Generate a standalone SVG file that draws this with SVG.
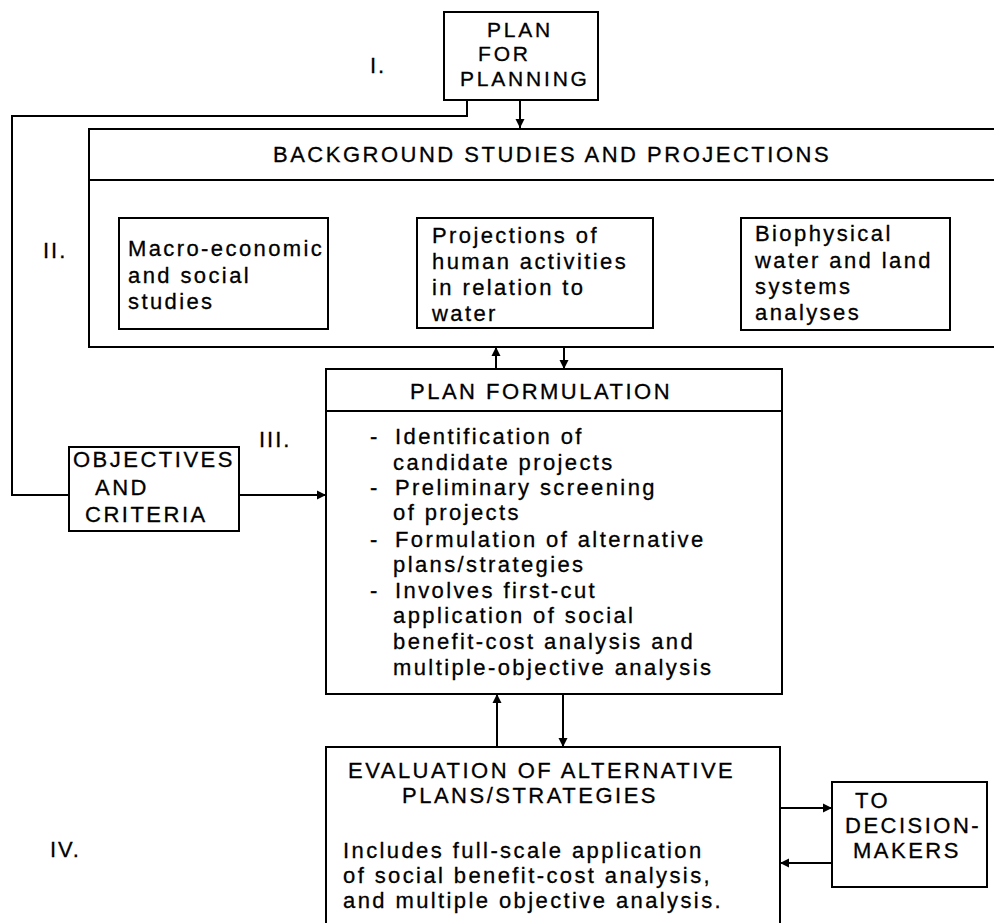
<svg xmlns="http://www.w3.org/2000/svg" width="994" height="923" viewBox="0 0 994 923">
<defs>
<marker id="ah" viewBox="0 0 10 10" refX="10" refY="5" markerWidth="9" markerHeight="10" markerUnits="userSpaceOnUse" orient="auto">
<path d="M0,0 L10,5 L0,10 z" fill="#000"/>
</marker>
<style>
.box{fill:none;stroke:#000;stroke-width:2}
.ln{fill:none;stroke:#000;stroke-width:2}
.arr{fill:none;stroke:#000;stroke-width:2;marker-end:url(#ah)}
text{font-family:"Liberation Sans","DejaVu Sans",sans-serif;fill:#000;stroke:#000;stroke-width:0.3px}
.h{font-size:22px;letter-spacing:2.5px}
.hs{font-size:21px;letter-spacing:2.8px}
.b{font-size:22px;letter-spacing:2.4px}
.r{font-size:22px;letter-spacing:2px}
</style>
</defs>
<rect width="994" height="923" fill="#fff"/>

<g id="connectors">
<path class="ln" d="M467,100 V116 H12 V495 H69"/>
<path class="arr" d="M520,100 V128"/>
<path class="arr" d="M496,369 V347"/>
<path class="arr" d="M564,347 V369"/>
<path class="arr" d="M239,495 H326"/>
<path class="arr" d="M497,747 V694"/>
<path class="arr" d="M563,694 V747"/>
<path class="arr" d="M780,808 H832"/>
<path class="arr" d="M832,863 H780"/>
</g>

<g id="labels">
<text class="r" x="370" y="73">I.</text>
<text class="r" x="43" y="258">II.</text>
<text class="r" x="259" y="447">III.</text>
<text class="r" x="50" y="857">IV.</text>
</g>

<g id="plan-for-planning">
<rect class="box" x="444" y="12" width="154" height="88"/>
<text class="hs" x="487" y="37">PLAN</text>
<text class="hs" x="478" y="61">FOR</text>
<text class="hs" x="460" y="86">PLANNING</text>
</g>

<g id="background-studies">
<path class="ln" d="M994,129 H89 V347 H994"/>
<path class="ln" d="M89,180 H994"/>
<text class="h" x="273" y="162">BACKGROUND STUDIES AND PROJECTIONS</text>
</g>

<g id="macro-economic">
<rect class="box" x="119" y="218" width="209" height="111"/>
<text class="b" x="128" y="256">Macro-economic</text>
<text class="b" x="128" y="283">and social</text>
<text class="b" x="128" y="309">studies</text>
</g>

<g id="projections">
<rect class="box" x="417" y="218" width="236" height="110"/>
<text class="b" x="432" y="243">Projections of</text>
<text class="b" x="432" y="269">human activities</text>
<text class="b" x="432" y="295">in relation to</text>
<text class="b" x="432" y="321">water</text>
</g>

<g id="biophysical">
<rect class="box" x="741" y="218" width="209" height="112"/>
<text class="b" x="755" y="241">Biophysical</text>
<text class="b" x="755" y="268">water and land</text>
<text class="b" x="755" y="294">systems</text>
<text class="b" x="755" y="320">analyses</text>
</g>

<g id="objectives">
<rect class="box" x="69" y="447" width="170" height="84"/>
<text class="h" x="73" y="467">OBJECTIVES</text>
<text class="h" x="95" y="495">AND</text>
<text class="h" x="85" y="522">CRITERIA</text>
</g>

<g id="plan-formulation">
<rect class="box" x="326" y="369" width="456" height="325"/>
<path class="ln" d="M326,411 H782"/>
<text class="h" x="410" y="399">PLAN FORMULATION</text>
<text class="b" x="370" y="444">-</text>
<text class="b" x="395" y="444">Identification of</text>
<text class="b" x="393" y="470">candidate projects</text>
<text class="b" x="370" y="495">-</text>
<text class="b" x="395" y="495">Preliminary screening</text>
<text class="b" x="393" y="520">of projects</text>
<text class="b" x="370" y="547">-</text>
<text class="b" x="395" y="547">Formulation of alternative</text>
<text class="b" x="393" y="572">plans/strategies</text>
<text class="b" x="370" y="598">-</text>
<text class="b" x="395" y="598">Involves first-cut</text>
<text class="b" x="393" y="623">application of social</text>
<text class="b" x="393" y="649">benefit-cost analysis and</text>
<text class="b" x="393" y="675">multiple-objective analysis</text>
</g>

<g id="evaluation">
<path class="ln" d="M326,923 V747 H780 V923"/>
<text class="h" x="348" y="778">EVALUATION OF ALTERNATIVE</text>
<text class="h" x="402" y="803">PLANS/STRATEGIES</text>
<text class="b" x="343" y="858">Includes full-scale application</text>
<text class="b" x="343" y="883">of social benefit-cost analysis,</text>
<text class="b" x="343" y="908">and multiple objective analysis.</text>
</g>

<g id="decision-makers">
<rect class="box" x="832" y="782" width="155" height="105"/>
<text class="h" x="855" y="808">TO</text>
<text class="h" x="845" y="833">DECISION-</text>
<text class="h" x="853" y="858">MAKERS</text>
</g>
</svg>
